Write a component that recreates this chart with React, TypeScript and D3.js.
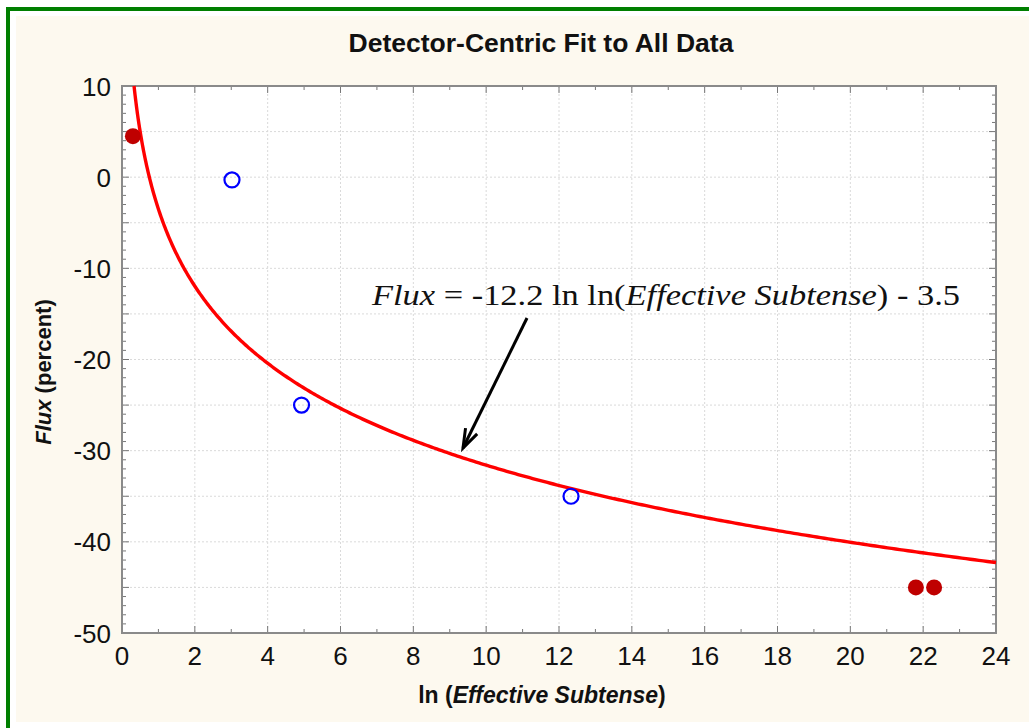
import React from "react";
import * as d3 from "d3";

const filledX = [0.3, 21.8, 22.3];
const filledY = [4.5, -45, -45];
const openX = [3.02, 4.93, 12.33];
const openY = [-0.3, -25.0, -35.0];
const fitA = -12.2;
const fitB = -3.5;
const xTicks = [0, 2, 4, 6, 8, 10, 12, 14, 16, 18, 20, 22, 24];
const yTicks = [10, 0, -10, -20, -30, -40, -50];

const W = 1029;
const H = 728;
const L = 122, R = 996, T = 86, B = 633;

export default function App() {
  const x = d3.scaleLinear().domain([0, 24]).range([L, R]);
  const y = d3.scaleLinear().domain([-50, 10]).range([B, T]);

  const xMinor = d3.range(0, 25, 1);
  const yMinor = d3.range(-50, 11, 1);
  const xGrid = xTicks.slice(1, -1);
  const yGrid = d3.range(-45, 10, 5);

  const xStart = Math.exp((10 - fitB) / fitA);
  const curvePts: [number, number][] = d3
    .range(0, 401)
    .map((i) => xStart + ((24 - xStart) * Math.pow(i / 400, 2)))
    .map((v) => [v, fitA * Math.log(v) + fitB]);
  const line = d3
    .line<[number, number]>()
    .x((d) => x(d[0]))
    .y((d) => y(d[1]))
    .curve(d3.curveLinear);

  const arrowFrom: [number, number] = [527, 318];
  const arrowTo: [number, number] = [463, 448];
  const ang = Math.atan2(arrowTo[1] - arrowFrom[1], arrowTo[0] - arrowFrom[0]);
  const hl = 20, ha = 0.33;
  const b1 = [arrowTo[0] - hl * Math.cos(ang - ha), arrowTo[1] - hl * Math.sin(ang - ha)];
  const b2 = [arrowTo[0] - hl * Math.cos(ang + ha), arrowTo[1] - hl * Math.sin(ang + ha)];

  const font = "Arial, 'Liberation Sans', sans-serif";

  return (
    <svg width={W} height={H} style={{ position: "absolute", left: 0, top: 0, display: "block" }}>
      <rect x={0} y={0} width={W} height={H} fill="#ffffff" />
      <rect x={16} y={16} width={W - 16} height={706} fill="#FDF9EF" />
      <rect x={6} y={7} width={W - 6} height={4} fill="#007F00" />
      <rect x={6} y={7} width={4} height={H - 7} fill="#007F00" />

      <text x={541} y={52} textAnchor="middle" fontFamily={font} fontWeight="bold" fontSize={26.5} fill="#111">
        Detector-Centric Fit to All Data
      </text>

      <rect x={L} y={T} width={R - L} height={B - T} fill="#ffffff" />

      {xGrid.map((v) => (
        <line key={"gx" + v} x1={x(v)} x2={x(v)} y1={T} y2={B} stroke="#dadada" strokeWidth={1} strokeDasharray="2,2" />
      ))}
      {yGrid.map((v) => (
        <line key={"gy" + v} x1={L} x2={R} y1={y(v)} y2={y(v)} stroke="#dadada" strokeWidth={1} strokeDasharray="2,2" />
      ))}

      {xMinor.map((v) => {
        const len = v % 2 === 0 ? 7 : 4;
        return (
          <g key={"tx" + v}>
            <line x1={x(v)} x2={x(v)} y1={B} y2={B - len} stroke="#777" strokeWidth={1} />
            <line x1={x(v)} x2={x(v)} y1={T} y2={T + len} stroke="#777" strokeWidth={1} />
          </g>
        );
      })}
      {yMinor.map((v) => {
        const len = v % 5 === 0 ? 7 : 4;
        return (
          <g key={"ty" + v}>
            <line x1={L} x2={L + len} y1={y(v)} y2={y(v)} stroke="#777" strokeWidth={1} />
            <line x1={R} x2={R - len} y1={y(v)} y2={y(v)} stroke="#777" strokeWidth={1} />
          </g>
        );
      })}

      <rect x={L} y={T} width={R - L} height={B - T} fill="none" stroke="#8a8a8a" strokeWidth={2} />

      <path d={line(curvePts) || ""} fill="none" stroke="#FF0000" strokeWidth={3.4} />

      {filledX.map((v, i) => (
        <circle key={"f" + i} cx={x(v)} cy={y(filledY[i])} r={8} fill="#BF0000" />
      ))}
      {openX.map((v, i) => (
        <circle key={"o" + i} cx={x(v)} cy={y(openY[i])} r={7.5} fill="none" stroke="#0000FF" strokeWidth={2.2} />
      ))}

      <line x1={arrowFrom[0]} y1={arrowFrom[1]} x2={arrowTo[0]} y2={arrowTo[1]} stroke="#000" strokeWidth={3} />
      <polyline points={`${b1[0]},${b1[1]} ${arrowTo[0]},${arrowTo[1]} ${b2[0]},${b2[1]}`} fill="none" stroke="#000" strokeWidth={3} strokeLinejoin="miter" />

      <text x={372} y={305} textLength={588} lengthAdjust="spacingAndGlyphs" fontFamily="'Liberation Serif', 'Times New Roman', serif" fontSize={29} fill="#111">
        <tspan fontStyle="italic">Flux</tspan>
        <tspan> = -12.2 ln ln(</tspan>
        <tspan fontStyle="italic">Effective Subtense</tspan>
        <tspan>) - 3.5</tspan>
      </text>

      {xTicks.map((v) => (
        <text key={"lx" + v} x={x(v)} y={665} textAnchor="middle" fontFamily={font} fontSize={26} fill="#111">
          {v}
        </text>
      ))}
      {yTicks.map((v) => (
        <text key={"ly" + v} x={111} y={y(v) + 9.5} textAnchor="end" fontFamily={font} fontSize={26} fill="#111">
          {v}
        </text>
      ))}

      <text x={542} y={703} textAnchor="middle" fontFamily={font} fontWeight="bold" fontSize={23} fill="#111">
        <tspan>ln (</tspan>
        <tspan fontStyle="italic">Effective Subtense</tspan>
        <tspan>)</tspan>
      </text>
      <text
        transform={`translate(51, 372) rotate(-90)`}
        textAnchor="middle"
        fontFamily={font}
        fontWeight="bold"
        fontSize={22}
        fill="#111"
      >
        <tspan fontStyle="italic">Flux</tspan>
        <tspan> (percent)</tspan>
      </text>
    </svg>
  );
}
